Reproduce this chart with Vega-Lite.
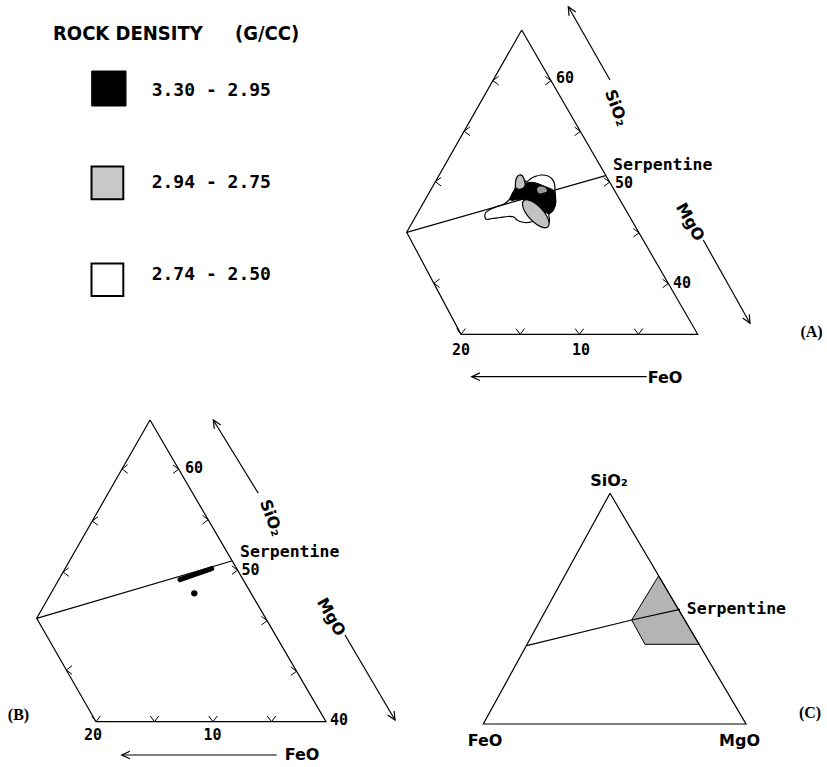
{
  "$schema": "https://vega.github.io/schema/vega-lite/v6.json",
  "width": 827,
  "height": 767,
  "padding": 0,
  "autosize": {"type": "none"},
  "background": "white",
  "config": {"view": {"stroke": null}},
  "datasets": {
    "blobs": [
      {"id": "outline", "i": 0, "x": 485, "y": 217.5},
      {"id": "outline", "i": 1, "x": 485.5, "y": 213},
      {"id": "outline", "i": 2, "x": 490, "y": 209.5},
      {"id": "outline", "i": 3, "x": 497, "y": 206.5},
      {"id": "outline", "i": 4, "x": 504, "y": 204},
      {"id": "outline", "i": 5, "x": 509, "y": 200},
      {"id": "outline", "i": 6, "x": 512, "y": 195},
      {"id": "outline", "i": 7, "x": 515, "y": 189},
      {"id": "outline", "i": 8, "x": 516, "y": 183},
      {"id": "outline", "i": 9, "x": 517, "y": 177.5},
      {"id": "outline", "i": 10, "x": 519.5, "y": 175.5},
      {"id": "outline", "i": 11, "x": 522, "y": 176.5},
      {"id": "outline", "i": 12, "x": 524, "y": 180},
      {"id": "outline", "i": 13, "x": 527, "y": 181.5},
      {"id": "outline", "i": 14, "x": 531, "y": 178.5},
      {"id": "outline", "i": 15, "x": 535, "y": 176.5},
      {"id": "outline", "i": 16, "x": 541, "y": 175},
      {"id": "outline", "i": 17, "x": 548, "y": 176},
      {"id": "outline", "i": 18, "x": 552.5, "y": 179.5},
      {"id": "outline", "i": 19, "x": 554.5, "y": 184},
      {"id": "outline", "i": 20, "x": 555, "y": 190},
      {"id": "outline", "i": 21, "x": 555.5, "y": 197},
      {"id": "outline", "i": 22, "x": 555.5, "y": 204},
      {"id": "outline", "i": 23, "x": 553, "y": 210.5},
      {"id": "outline", "i": 24, "x": 549, "y": 214},
      {"id": "outline", "i": 25, "x": 549.5, "y": 220},
      {"id": "outline", "i": 26, "x": 548, "y": 225.5},
      {"id": "outline", "i": 27, "x": 545, "y": 227.5},
      {"id": "outline", "i": 28, "x": 541, "y": 226},
      {"id": "outline", "i": 29, "x": 537, "y": 222},
      {"id": "outline", "i": 30, "x": 533, "y": 221.5},
      {"id": "outline", "i": 31, "x": 528, "y": 222.5},
      {"id": "outline", "i": 32, "x": 522, "y": 222},
      {"id": "outline", "i": 33, "x": 517, "y": 220},
      {"id": "outline", "i": 34, "x": 514, "y": 217},
      {"id": "outline", "i": 35, "x": 508, "y": 216.5},
      {"id": "outline", "i": 36, "x": 500, "y": 217.5},
      {"id": "outline", "i": 37, "x": 492, "y": 218.5},
      {"id": "outline", "i": 38, "x": 487, "y": 219.5},

      {"id": "dense", "i": 0, "x": 510, "y": 199},
      {"id": "dense", "i": 1, "x": 512, "y": 194},
      {"id": "dense", "i": 2, "x": 515, "y": 189},
      {"id": "dense", "i": 3, "x": 519, "y": 185.5},
      {"id": "dense", "i": 4, "x": 524, "y": 183.5},
      {"id": "dense", "i": 5, "x": 529, "y": 182.5},
      {"id": "dense", "i": 6, "x": 534, "y": 182.5},
      {"id": "dense", "i": 7, "x": 539, "y": 184},
      {"id": "dense", "i": 8, "x": 545, "y": 186.5},
      {"id": "dense", "i": 9, "x": 550, "y": 188.5},
      {"id": "dense", "i": 10, "x": 554, "y": 191},
      {"id": "dense", "i": 11, "x": 555.5, "y": 197},
      {"id": "dense", "i": 12, "x": 555.5, "y": 204},
      {"id": "dense", "i": 13, "x": 553, "y": 210.5},
      {"id": "dense", "i": 14, "x": 549, "y": 213.5},
      {"id": "dense", "i": 15, "x": 545, "y": 212},
      {"id": "dense", "i": 16, "x": 539, "y": 206},
      {"id": "dense", "i": 17, "x": 532, "y": 201.5},
      {"id": "dense", "i": 18, "x": 524, "y": 199.5},
      {"id": "dense", "i": 19, "x": 517, "y": 199.5},
      {"id": "dense", "i": 20, "x": 512, "y": 200.5},

      {"id": "mid", "i": 0, "x": 548.0, "y": 226.9},
      {"id": "mid", "i": 1, "x": 543.7, "y": 227.7},
      {"id": "mid", "i": 2, "x": 537.2, "y": 224.8},
      {"id": "mid", "i": 3, "x": 530.3, "y": 218.9},
      {"id": "mid", "i": 4, "x": 524.9, "y": 211.7},
      {"id": "mid", "i": 5, "x": 522.5, "y": 205.0},
      {"id": "mid", "i": 6, "x": 523.6, "y": 200.7},
      {"id": "mid", "i": 7, "x": 527.9, "y": 199.9},
      {"id": "mid", "i": 8, "x": 534.4, "y": 202.8},
      {"id": "mid", "i": 9, "x": 541.3, "y": 208.7},
      {"id": "mid", "i": 10, "x": 546.7, "y": 216.0},
      {"id": "mid", "i": 11, "x": 549.1, "y": 222.6},

      {"id": "midlobe", "i": 0, "x": 516, "y": 188},
      {"id": "midlobe", "i": 1, "x": 515.5, "y": 182},
      {"id": "midlobe", "i": 2, "x": 517, "y": 177},
      {"id": "midlobe", "i": 3, "x": 519.5, "y": 175},
      {"id": "midlobe", "i": 4, "x": 522.5, "y": 176},
      {"id": "midlobe", "i": 5, "x": 524.5, "y": 180.5},
      {"id": "midlobe", "i": 6, "x": 525, "y": 186},
      {"id": "midlobe", "i": 7, "x": 521, "y": 189},

      {"id": "speck", "i": 0, "x": 537, "y": 189},
      {"id": "speck", "i": 1, "x": 540, "y": 186.5},
      {"id": "speck", "i": 2, "x": 545, "y": 187.5},
      {"id": "speck", "i": 3, "x": 547, "y": 191},
      {"id": "speck", "i": 4, "x": 544, "y": 194},
      {"id": "speck", "i": 5, "x": 539, "y": 193.5},

      {"id": "field", "i": 0, "x": 658.5, "y": 576},
      {"id": "field", "i": 1, "x": 631.7, "y": 620},
      {"id": "field", "i": 2, "x": 645, "y": 644.3},
      {"id": "field", "i": 3, "x": 699.3, "y": 644.3}
    ],
    "edges": [
      {"id": "A-tri", "i": 0, "x": 521.7, "y": 30},
      {"id": "A-tri", "i": 1, "x": 406.7, "y": 232.3},
      {"id": "A-tri", "i": 2, "x": 461, "y": 334.3},
      {"id": "A-tri", "i": 3, "x": 697.7, "y": 334.3},
      {"id": "A-tri", "i": 4, "x": 521.7, "y": 30},
      {"id": "A-serp", "i": 0, "x": 406.7, "y": 232.3},
      {"id": "A-serp", "i": 1, "x": 605.7, "y": 175.7},
      {"id": "A-si", "i": 0, "x": 610, "y": 80},
      {"id": "A-si", "i": 1, "x": 568.3, "y": 6.7},
      {"id": "A-si-head", "i": 0, "x": 569.0, "y": 15.7},
      {"id": "A-si-head", "i": 1, "x": 568.3, "y": 6.7},
      {"id": "A-si-head", "i": 2, "x": 575.7, "y": 11.9},
      {"id": "A-mg", "i": 0, "x": 703.3, "y": 240},
      {"id": "A-mg", "i": 1, "x": 750, "y": 323.3},
      {"id": "A-mg-head", "i": 0, "x": 749.3, "y": 314.3},
      {"id": "A-mg-head", "i": 1, "x": 750, "y": 323.3},
      {"id": "A-mg-head", "i": 2, "x": 742.7, "y": 318.1},
      {"id": "A-fe", "i": 0, "x": 646.7, "y": 376.7},
      {"id": "A-fe", "i": 1, "x": 471.7, "y": 376.7},
      {"id": "A-fe-head", "i": 0, "x": 479.9, "y": 372.9},
      {"id": "A-fe-head", "i": 1, "x": 471.7, "y": 376.7},
      {"id": "A-fe-head", "i": 2, "x": 479.9, "y": 380.5},

      {"id": "B-tri", "i": 0, "x": 150, "y": 420},
      {"id": "B-tri", "i": 1, "x": 36.7, "y": 618.3},
      {"id": "B-tri", "i": 2, "x": 96, "y": 721.7},
      {"id": "B-tri", "i": 3, "x": 326, "y": 721.7},
      {"id": "B-tri", "i": 4, "x": 150, "y": 420},
      {"id": "B-serp", "i": 0, "x": 36.7, "y": 618.3},
      {"id": "B-serp", "i": 1, "x": 231.7, "y": 561},
      {"id": "B-si", "i": 0, "x": 258.3, "y": 493.3},
      {"id": "B-si", "i": 1, "x": 213.3, "y": 420},
      {"id": "B-si-head", "i": 0, "x": 214.3, "y": 428.9},
      {"id": "B-si-head", "i": 1, "x": 213.3, "y": 420},
      {"id": "B-si-head", "i": 2, "x": 220.8, "y": 425.0},
      {"id": "B-mg", "i": 0, "x": 345, "y": 635},
      {"id": "B-mg", "i": 1, "x": 395, "y": 720},
      {"id": "B-mg-head", "i": 0, "x": 394.2, "y": 711.0},
      {"id": "B-mg-head", "i": 1, "x": 395, "y": 720},
      {"id": "B-mg-head", "i": 2, "x": 387.6, "y": 714.9},
      {"id": "B-fe", "i": 0, "x": 276.7, "y": 755},
      {"id": "B-fe", "i": 1, "x": 121.7, "y": 755},
      {"id": "B-fe-head", "i": 0, "x": 129.9, "y": 751.2},
      {"id": "B-fe-head", "i": 1, "x": 121.7, "y": 755},
      {"id": "B-fe-head", "i": 2, "x": 129.9, "y": 758.8},

      {"id": "C-tri", "i": 0, "x": 610, "y": 493.3},
      {"id": "C-tri", "i": 1, "x": 483.3, "y": 724},
      {"id": "C-tri", "i": 2, "x": 746, "y": 724},
      {"id": "C-tri", "i": 3, "x": 610, "y": 493.3},
      {"id": "C-serp", "i": 0, "x": 526.7, "y": 645.7},
      {"id": "C-serp", "i": 1, "x": 631.7, "y": 620},
      {"id": "C-serp", "i": 2, "x": 680, "y": 609.3}
    ],
    "samplesB": [
      {"id": "band", "i": 0, "x": 180, "y": 579.6},
      {"id": "band", "i": 1, "x": 211.7, "y": 568.6}
    ],
    "pointB": [
      {"x": 194.3, "y": 593.3}
    ],
    "ticks": [
      {"dir": "R", "x": 551.0, "y": 80.7},
      {"dir": "R", "x": 580.3, "y": 131.4},
      {"dir": "R", "x": 609.6, "y": 182.1},
      {"dir": "R", "x": 639.0, "y": 232.8},
      {"dir": "R", "x": 668.3, "y": 283.5},
      {"dir": "L", "x": 492.9, "y": 80.6},
      {"dir": "L", "x": 464.2, "y": 131.2},
      {"dir": "L", "x": 435.4, "y": 181.7},
      {"dir": "L", "x": 433.9, "y": 283.3},
      {"dir": "D", "x": 461, "y": 334.3},
      {"dir": "D", "x": 520.2, "y": 334.3},
      {"dir": "D", "x": 579.4, "y": 334.3},
      {"dir": "D", "x": 638.5, "y": 334.3},
      {"dir": "R", "x": 178.7, "y": 469.2},
      {"dir": "R", "x": 208.2, "y": 519.7},
      {"dir": "R", "x": 237.6, "y": 570.2},
      {"dir": "R", "x": 267.1, "y": 620.7},
      {"dir": "R", "x": 296.5, "y": 671.2},
      {"dir": "L", "x": 122.0, "y": 469},
      {"dir": "L", "x": 92.3, "y": 521},
      {"dir": "L", "x": 63.1, "y": 572},
      {"dir": "L", "x": 66.3, "y": 670},
      {"dir": "D", "x": 96, "y": 721.7},
      {"dir": "D", "x": 154.5, "y": 721.7},
      {"dir": "D", "x": 213, "y": 721.7},
      {"dir": "D", "x": 271.5, "y": 721.7}
    ],
    "sideLabels": [
      {"label": "60", "x": 556, "y": 78},
      {"label": "50", "x": 615, "y": 183},
      {"label": "40", "x": 673, "y": 283},
      {"label": "60", "x": 185, "y": 468},
      {"label": "50", "x": 241.5, "y": 570},
      {"label": "40", "x": 330, "y": 720}
    ],
    "baseLabels": [
      {"label": "20", "x": 461, "y": 350},
      {"label": "10", "x": 581, "y": 350},
      {"label": "20", "x": 93, "y": 735},
      {"label": "10", "x": 212.5, "y": 735}
    ],
    "serpentine": [
      {"label": "Serpentine", "x": 613, "y": 165},
      {"label": "Serpentine", "x": 240, "y": 552},
      {"label": "Serpentine", "x": 686.7, "y": 609.3}
    ],
    "oxides": [
      {"label": "FeO", "x": 665, "y": 377.5},
      {"label": "FeO", "x": 302, "y": 755},
      {"label": "SiO₂", "x": 609, "y": 481},
      {"label": "FeO", "x": 485, "y": 741},
      {"label": "MgO", "x": 739.5, "y": 741}
    ],
    "oxidesSi": [
      {"label": "SiO₂", "x": 616, "y": 108},
      {"label": "SiO₂", "x": 271, "y": 518}
    ],
    "oxidesMg": [
      {"label": "MgO", "x": 690, "y": 222},
      {"label": "MgO", "x": 331, "y": 617}
    ],
    "panels": [
      {"label": "(A)", "x": 811.5, "y": 332},
      {"label": "(B)", "x": 18.5, "y": 715},
      {"label": "(C)", "x": 810, "y": 713}
    ],
    "legendTitle": [
      {"label": "ROCK DENSITY", "x": 53, "y": 34},
      {"label": "(G/CC)", "x": 235, "y": 34}
    ],
    "legendRanges": [
      {"label": "3.30 - 2.95", "x": 151.7, "y": 90.7},
      {"label": "2.94 - 2.75", "x": 151.7, "y": 182.7},
      {"label": "2.74 - 2.50", "x": 151.7, "y": 275}
    ],
    "swatches": [
      {"klass": "high", "x": 91.7, "x2": 126, "y": 71, "y2": 106},
      {"klass": "mid", "x": 91.5, "x2": 123.3, "y": 166.5, "y2": 199.3},
      {"klass": "low", "x": 91.5, "x2": 123.3, "y": 263.5, "y2": 296}
    ]
  },
  "encoding": {
    "x": {"field": "x", "type": "quantitative", "scale": {"domain": [0, 827], "nice": false, "zero": false}, "axis": null},
    "y": {"field": "y", "type": "quantitative", "scale": {"domain": [0, 767], "nice": false, "zero": false, "reverse": true}, "axis": null}
  },
  "layer": [
    {
      "data": {"name": "blobs"},
      "transform": [{"filter": "datum.id === 'outline'"}],
      "mark": {"type": "line", "interpolate": "cardinal-closed", "fill": "white", "stroke": "black", "strokeWidth": 1.2},
      "encoding": {"order": {"field": "i", "type": "quantitative"}}
    },
    {
      "data": {"name": "blobs"},
      "transform": [{"filter": "datum.id === 'dense'"}],
      "mark": {"type": "line", "interpolate": "cardinal-closed", "fill": "black", "stroke": "black", "strokeWidth": 1},
      "encoding": {"order": {"field": "i", "type": "quantitative"}}
    },
    {
      "data": {"name": "blobs"},
      "transform": [{"filter": "datum.id === 'mid' || datum.id === 'midlobe'"}],
      "mark": {"type": "line", "interpolate": "cardinal-closed", "fill": "#c2c2c2", "stroke": "black", "strokeWidth": 1.2},
      "encoding": {"detail": {"field": "id", "type": "nominal"}, "order": {"field": "i", "type": "quantitative"}}
    },
    {
      "data": {"name": "blobs"},
      "transform": [{"filter": "datum.id === 'speck'"}],
      "mark": {"type": "line", "interpolate": "cardinal-closed", "fill": "#9a9a9a", "stroke": null},
      "encoding": {"order": {"field": "i", "type": "quantitative"}}
    },
    {
      "data": {"name": "blobs"},
      "transform": [{"filter": "datum.id === 'field'"}],
      "mark": {"type": "line", "interpolate": "linear-closed", "fill": "#b4b4b4", "stroke": "black", "strokeWidth": 1},
      "encoding": {"order": {"field": "i", "type": "quantitative"}}
    },
    {
      "data": {"name": "edges"},
      "mark": {"type": "line", "stroke": "black", "strokeWidth": 1.2},
      "encoding": {"detail": {"field": "id", "type": "nominal"}, "order": {"field": "i", "type": "quantitative"}}
    },
    {
      "data": {"name": "samplesB"},
      "mark": {"type": "line", "stroke": "black", "strokeWidth": 5, "strokeCap": "round"},
      "encoding": {"detail": {"field": "id", "type": "nominal"}, "order": {"field": "i", "type": "quantitative"}}
    },
    {
      "data": {"name": "pointB"},
      "mark": {"type": "circle", "color": "black", "size": 40, "opacity": 1}
    },
    {
      "data": {"name": "ticks"},
      "transform": [{"filter": "datum.dir === 'R'"}],
      "mark": {"type": "point", "shape": "M-1,-0.75L0,0L-1,0.75", "filled": false, "stroke": "black", "strokeWidth": 1, "size": 130, "opacity": 1}
    },
    {
      "data": {"name": "ticks"},
      "transform": [{"filter": "datum.dir === 'L'"}],
      "mark": {"type": "point", "shape": "M1,-0.75L0,0L1,0.75", "filled": false, "stroke": "black", "strokeWidth": 1, "size": 130, "opacity": 1}
    },
    {
      "data": {"name": "ticks"},
      "transform": [{"filter": "datum.dir === 'D'"}],
      "mark": {"type": "point", "shape": "M-0.75,-1L0,0L0.75,-1", "filled": false, "stroke": "black", "strokeWidth": 1, "size": 130, "opacity": 1}
    },
    {
      "data": {"name": "sideLabels"},
      "mark": {"type": "text", "font": "DejaVu Sans Mono", "fontWeight": "bold", "fontSize": 15, "align": "left", "baseline": "middle", "color": "black"},
      "encoding": {"text": {"field": "label", "type": "nominal"}}
    },
    {
      "data": {"name": "baseLabels"},
      "mark": {"type": "text", "font": "DejaVu Sans Mono", "fontWeight": "bold", "fontSize": 15, "align": "center", "baseline": "middle", "color": "black"},
      "encoding": {"text": {"field": "label", "type": "nominal"}}
    },
    {
      "data": {"name": "serpentine"},
      "mark": {"type": "text", "font": "DejaVu Sans Mono", "fontWeight": "bold", "fontSize": 16.5, "align": "left", "baseline": "middle", "color": "black"},
      "encoding": {"text": {"field": "label", "type": "nominal"}}
    },
    {
      "data": {"name": "oxides"},
      "mark": {"type": "text", "font": "DejaVu Sans", "fontWeight": "bold", "fontSize": 16, "align": "center", "baseline": "middle", "color": "black"},
      "encoding": {"text": {"field": "label", "type": "nominal"}}
    },
    {
      "data": {"name": "oxidesSi"},
      "mark": {"type": "text", "font": "DejaVu Sans", "fontWeight": "bold", "fontSize": 16, "align": "center", "baseline": "middle", "angle": 70, "color": "black"},
      "encoding": {"text": {"field": "label", "type": "nominal"}}
    },
    {
      "data": {"name": "oxidesMg"},
      "mark": {"type": "text", "font": "DejaVu Sans", "fontWeight": "bold", "fontSize": 16, "align": "center", "baseline": "middle", "angle": 60, "color": "black"},
      "encoding": {"text": {"field": "label", "type": "nominal"}}
    },
    {
      "data": {"name": "panels"},
      "mark": {"type": "text", "font": "Liberation Serif", "fontWeight": "bold", "fontSize": 16, "align": "center", "baseline": "middle", "color": "black"},
      "encoding": {"text": {"field": "label", "type": "nominal"}}
    },
    {
      "data": {"name": "legendTitle"},
      "mark": {"type": "text", "font": "DejaVu Sans Condensed", "fontWeight": "bold", "fontSize": 20, "align": "left", "baseline": "middle", "color": "black"},
      "encoding": {"text": {"field": "label", "type": "nominal"}}
    },
    {
      "data": {"name": "legendRanges"},
      "mark": {"type": "text", "font": "DejaVu Sans Mono", "fontWeight": "bold", "fontSize": 18, "align": "left", "baseline": "middle", "color": "black"},
      "encoding": {"text": {"field": "label", "type": "nominal"}}
    },
    {
      "data": {"name": "swatches"},
      "transform": [{"filter": "datum.klass === 'high'"}],
      "mark": {"type": "rect", "fill": "black", "stroke": "black", "strokeWidth": 1},
      "encoding": {"x2": {"field": "x2"}, "y2": {"field": "y2"}}
    },
    {
      "data": {"name": "swatches"},
      "transform": [{"filter": "datum.klass === 'mid'"}],
      "mark": {"type": "rect", "fill": "#c8c8c8", "stroke": "black", "strokeWidth": 2},
      "encoding": {"x2": {"field": "x2"}, "y2": {"field": "y2"}}
    },
    {
      "data": {"name": "swatches"},
      "transform": [{"filter": "datum.klass === 'low'"}],
      "mark": {"type": "rect", "fill": "white", "stroke": "black", "strokeWidth": 2},
      "encoding": {"x2": {"field": "x2"}, "y2": {"field": "y2"}}
    }
  ]
}
